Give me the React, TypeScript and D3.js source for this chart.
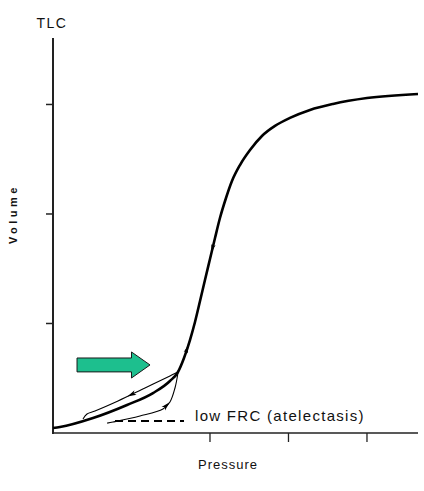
import React from "react";
import * as d3 from "d3";

// Pressure (arbitrary units) vs Volume (L)
const mainPressure = [0, 0.89, 5.1, 9.43, 12.74, 14.9, 15.92, 16.69, 17.45, 18.09, 18.73, 19.36, 20.0, 20.64, 21.27, 22.04, 22.8, 23.82, 25.1, 26.62, 28.28, 30.19, 32.74, 35.67, 40.0, 46.5];
const mainVolume = [0.046, 0.055, 0.137, 0.256, 0.365, 0.475, 0.557, 0.685, 0.849, 1.014, 1.205, 1.397, 1.589, 1.781, 1.963, 2.146, 2.301, 2.447, 2.584, 2.712, 2.804, 2.877, 2.95, 3.005, 3.059, 3.096];

const deflPressure = [15.92, 14.9, 11.72, 8.28, 5.35, 4.33, 3.82];
const deflVolume = [0.557, 0.521, 0.411, 0.292, 0.201, 0.174, 0.128];

const inflPressure = [6.9, 7.64, 11.08, 14.01, 14.9, 15.54, 15.92];
const inflVolume = [0.09, 0.1, 0.155, 0.219, 0.283, 0.411, 0.548];

const frcPressure = [7.9, 16.69];
const frcVolume = [0.11, 0.11];

const xTicks = [20, 30, 40];
const yTicks = [1, 2, 3];

const labelTLC = "TLC";
const labelX = "Pressure";
const labelY = "Volume";
const labelFRC = "low FRC (atelectasis)";

const W = 424;
const H = 491;

export default function App() {
  const x = d3.scaleLinear().domain([0, 46.5]).range([53, 418]);
  const y = d3.scaleLinear().domain([0, 3.607]).range([433, 38]);

  const line = d3
    .line<[number, number]>()
    .x((d) => x(d[0]))
    .y((d) => y(d[1]))
    .curve(d3.curveCatmullRom.alpha(0.5));

  const smooth = d3
    .line<[number, number]>()
    .x((d) => x(d[0]))
    .y((d) => y(d[1]))
    .curve(d3.curveMonotoneX);

  const zip = (a: number[], b: number[]) => a.map((v, i) => [v, b[i]] as [number, number]);
  const mainPts = zip(mainPressure, mainVolume);
  const deflPts = zip(deflPressure, deflVolume);
  const inflPts = zip(inflPressure, inflVolume);
  const frcPts = zip(frcPressure, frcVolume);

  const arrowAt = (pts: [number, number][], i: number, j: number, size: number) => {
    const ax = x(pts[i][0]), ay = y(pts[i][1]);
    const bx = x(pts[j][0]), by = y(pts[j][1]);
    const cx = (ax + bx) / 2, cy = (ay + by) / 2;
    const ang = (Math.atan2(by - ay, bx - ax) * 180) / Math.PI;
    return (
      <path
        d={`M${size},0 L${-size},${-size * 0.55} L${-size * 0.5},0 L${-size},${size * 0.55} Z`}
        transform={`translate(${cx},${cy}) rotate(${ang})`}
        fill="#000"
      />
    );
  };

  // green arrow geometry (in data space)
  const gx0 = x(3.06), gx1 = x(10.0), gx2 = x(12.36);
  const gyTop = y(0.685), gyBot = y(0.558), ghTop = y(0.74), ghBot = y(0.502);
  const gyMid = (gyTop + gyBot) / 2;
  const greenPath = `M${gx0},${gyTop} L${gx1},${gyTop} L${gx1},${ghTop} L${gx2},${gyMid} L${gx1},${ghBot} L${gx1},${gyBot} L${gx0},${gyBot} Z`;

  const font = "'Liberation Sans', Arial, sans-serif";

  return (
    <svg
      width={W}
      height={H}
      style={{ position: "absolute", left: 0, top: 0, background: "#fff" }}
    >
      {/* axes */}
      <line x1={53} x2={53} y1={38} y2={434} stroke="#222" strokeWidth={2} />
      <line x1={52} x2={418} y1={433} y2={433} stroke="#222" strokeWidth={1.6} />
      {yTicks.map((t) => (
        <line key={t} x1={46} x2={53} y1={y(t)} y2={y(t)} stroke="#222" strokeWidth={1.5} />
      ))}
      {xTicks.map((t) => (
        <line key={t} x1={x(t)} x2={x(t)} y1={433} y2={442} stroke="#222" strokeWidth={1.3} />
      ))}

      {/* loops */}
      <path d={line(deflPts) || ""} fill="none" stroke="#000" strokeWidth={1.1} />
      <path d={line(inflPts) || ""} fill="none" stroke="#000" strokeWidth={1.1} />
      <path d={line(frcPts) || ""} fill="none" stroke="#000" strokeWidth={2} strokeDasharray="8,5" />
      {/* main curve */}
      <path d={smooth(mainPts) || ""} fill="none" stroke="#000" strokeWidth={2.6} strokeLinejoin="round" />

      {arrowAt(deflPts, 2, 3, 4.5)}
      {arrowAt(inflPts, 3, 4, 4.5)}
      {arrowAt(mainPts, 13, 12, 4)}
      {arrowAt(mainPts, 7, 8, 4)}

      {/* green arrow */}
      <path d={greenPath} fill="#1dbf8e" stroke="#1a1a1a" strokeWidth={1} />

      {/* labels */}
      <text x={52} y={28} textAnchor="middle" fontFamily={font} fontSize={14} letterSpacing={1.5} fill="#111">
        {labelTLC}
      </text>
      <text
        x={0}
        y={0}
        transform={`translate(17,214) rotate(-90)`}
        textAnchor="middle"
        fontFamily={font}
        fontSize={11}
        fontWeight="bold"
        letterSpacing={3.5}
        fill="#111"
      >
        {labelY}
      </text>
      <text x={228} y={469} textAnchor="middle" fontFamily={font} fontSize={13} letterSpacing={1} fill="#111">
        {labelX}
      </text>
      <text x={195} y={421} fontFamily={font} fontSize={15} letterSpacing={1.3} fill="#111">
        {labelFRC}
      </text>
    </svg>
  );
}
